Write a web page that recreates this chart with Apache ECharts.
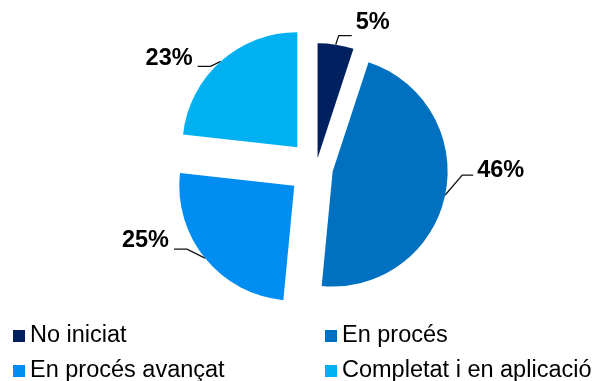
<!DOCTYPE html>
<html><head><meta charset="utf-8">
<script src="https://cdn.jsdelivr.net/npm/echarts@6/dist/echarts.min.js"></script>
<style>html,body{margin:0;padding:0;background:#fff}#c{width:598px;height:381px}</style>
</head><body><div id="c"></div>
<script>
// ---- data ----
const categories = ['No iniciat', 'En procés', 'En procés avançat', 'Completat i en aplicació'];
const values = [5, 46, 25, 23];
const colors = ['#002060', '#0070C0', '#008DF2', '#00B0F0'];

// ---- layout / style ----
const CENTER = [316, 168], RADIUS = 115;
const explode = [10, 17, 28, 28];
const labelGeom = [
  {kx: 3,   ky: -9,  ex: 16,  ey: -9,  tx: 20,  ty: -22, align: 'left'},
  {kx: 17,  ky: -20, ex: 28,  ey: -20, tx: 32,  ty: -25, align: 'left'},
  {kx: -18, ky: -9,  ex: -31, ey: -9,  tx: -36, ty: -18, align: 'right'},
  {kx: -10, ky: 5,   ex: -23, ey: 5,   tx: -28, ty: -3,  align: 'right'}
];
const legendPos = [[13, 324], [325, 324], [13, 359], [325, 359]];
const FONT = "'Liberation Sans', Arial, sans-serif";

const total = values.reduce((a, b) => a + b, 0);
let cum = 0;
const series = values.map((v, i) => {
  const mid = (cum + v / 2) / total * 2 * Math.PI;
  cum += v;
  const cx = CENTER[0] + explode[i] * Math.sin(mid);
  const cy = CENTER[1] - explode[i] * Math.cos(mid);
  const g = labelGeom[i];
  return {
    type: 'pie',
    center: [cx, cy],
    radius: RADIUS,
    startAngle: 90,
    clockwise: true,
    avoidLabelOverlap: false,
    animation: false,
    silent: true,
    emphasis: {disabled: true},
    label: {
      show: true,
      formatter: '{c}%',
      fontFamily: FONT,
      fontWeight: 'bold',
      fontSize: 23.5,
      color: '#000'
    },
    labelLine: {show: true, length: 10, length2: 10, lineStyle: {color: '#111', width: 1.3}},
    labelLayout: function (p) {
      if (p.dataIndex !== i || !p.labelLinePoints) return {};
      const p0 = p.labelLinePoints[0];
      return {
        x: p0[0] + g.tx,
        y: p0[1] + g.ty,
        align: g.align,
        verticalAlign: 'middle',
        labelLinePoints: [[p0[0], p0[1]], [p0[0] + g.kx, p0[1] + g.ky], [p0[0] + g.ex, p0[1] + g.ey]]
      };
    },
    data: categories.map((n, j) => j === i
      ? {name: n, value: values[j], itemStyle: {color: colors[j]}}
      : {name: n, value: values[j], itemStyle: {color: 'rgba(0,0,0,0)'}, label: {show: false}, labelLine: {show: false}})
  };
});

const legends = categories.map((n, k) => ({
  orient: 'horizontal',
  left: legendPos[k][0],
  top: legendPos[k][1],
  padding: 0,
  icon: 'rect',
  itemWidth: 12,
  itemHeight: 12,
  selectedMode: false,
  textStyle: {fontFamily: FONT, fontSize: 23.5, color: '#000', lineHeight: 24},
  data: [{name: n, itemStyle: {color: colors[k]}}]
}));

const chart = echarts.init(document.getElementById('c'), null, {renderer: 'canvas'});
chart.setOption({
  backgroundColor: '#fff',
  animation: false,
  legend: legends,
  series: series
});
</script>
</body></html>
